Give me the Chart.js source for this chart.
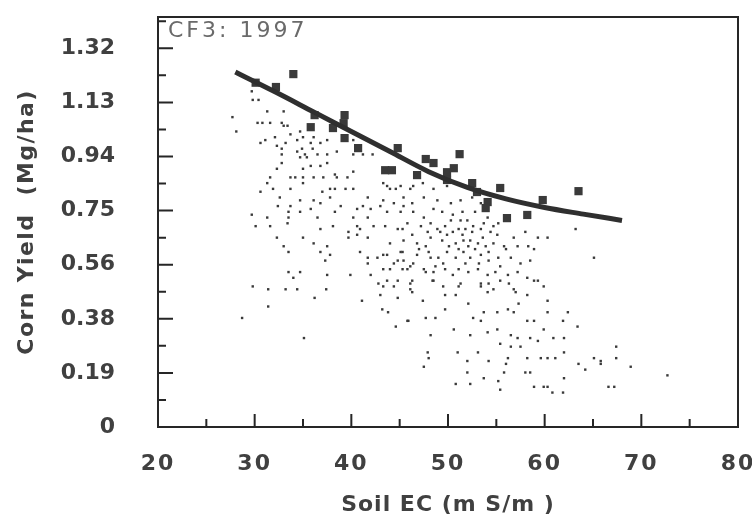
<!DOCTYPE html>
<html>
<head>
<meta charset="utf-8">
<title>CF3: 1997 - Corn Yield vs Soil EC</title>
<script src="https://cdn.jsdelivr.net/npm/chart.js@4.4.1/dist/chart.umd.min.js"></script>
<style>
    html, body { margin: 0; padding: 0; background: #ffffff; }
    #wrap { width: 752px; height: 518px; }
</style>
</head>
<body>
<div id="wrap"><canvas id="ecChart" width="752" height="518"></canvas></div>
<script>
// Yield monitor cells: [Soil EC (mS/m), Corn yield (Mg/ha)]
const gridPoints = [
    [27.7,1.08],[28.1,1.03],[29.7,1.17],[29.8,1.14],[30.4,1.14],[31.3,1.10],[30.3,1.06],[30.8,1.06],[31.6,1.06],[32.8,1.06],
    [33.0,1.10],[33.0,1.05],[33.4,1.05],[33.7,1.02],[34.7,1.03],[30.6,0.99],[31.1,1.00],[32.1,1.01],[32.3,0.98],[33.2,0.99],
    [34.4,1.00],[35.0,1.01],[35.8,0.99],[36.1,1.01],[36.8,0.99],[37.5,1.00],[32.8,0.97],[32.8,0.95],[34.4,0.96],[34.9,0.97],
    [36.0,0.97],[35.2,0.95],[36.5,0.95],[38.5,0.96],[37.5,0.95],[40.2,1.00],[40.2,0.95],[34.7,0.94],[35.4,0.94],[32.8,0.92],
    [37.5,0.92],[35.0,0.90],[35.8,0.91],[36.8,0.91],[32.3,0.90],[31.6,0.87],[33.7,0.87],[34.2,0.87],[35.0,0.87],[36.1,0.87],
    [37.1,0.87],[38.3,0.88],[38.5,0.87],[39.6,0.87],[40.2,0.89],[31.3,0.85],[35.0,0.85],[37.8,0.83],[38.3,0.83],[37.0,0.82],
    [30.6,0.82],[31.9,0.83],[33.7,0.83],[39.4,0.83],[40.2,0.83],[41.7,0.80],[32.6,0.80],[34.7,0.79],[36.1,0.79],[37.8,0.80],
    [32.4,0.77],[33.7,0.77],[35.8,0.76],[36.8,0.78],[38.9,0.77],[40.6,0.76],[41.2,0.77],[42.0,0.76],[29.7,0.74],[31.3,0.73],
    [33.5,0.75],[33.5,0.73],[34.7,0.75],[36.5,0.73],[38.3,0.75],[40.2,0.73],[41.7,0.73],[40.6,0.70],[30.1,0.70],[31.6,0.70],
    [33.4,0.71],[36.8,0.69],[38.1,0.70],[39.7,0.68],[40.9,0.69],[42.3,0.70],[32.3,0.66],[35.0,0.66],[39.7,0.66],[40.6,0.67],
    [41.7,0.66],[33.0,0.63],[36.1,0.64],[37.5,0.63],[33.5,0.61],[36.8,0.61],[37.8,0.60],[40.9,0.61],[41.7,0.59],[42.7,0.59],
    [42.2,0.95],[41.2,0.95],[43.3,0.85],[44.0,0.83],[46.1,0.83],[43.0,0.77],[45.4,0.77],
    [37.3,0.58],[34.7,0.54],[33.5,0.54],[34.0,0.52],[37.5,0.53],[39.9,0.53],[29.8,0.49],[31.4,0.48],[33.2,0.48],[34.4,0.48],
    [37.4,0.48],[36.2,0.45],[31.4,0.42],[28.7,0.38],[35.1,0.31],[41.1,0.44],[41.7,0.57],[43.3,0.60],[45.3,0.61],[43.3,0.55],
    [44.4,0.57],[45.4,0.58],[42.8,0.50],[43.7,0.51],[44.4,0.49],[45.3,0.55],[46.1,0.56],[46.3,0.51],[46.3,0.47],[44.8,0.45],
    [43.0,0.46],[43.2,0.41],[43.8,0.40],[45.9,0.37],[44.6,0.35],[42.0,0.53],[44.8,0.58],[46.4,0.57],[48.2,0.59],[46.1,0.50],
    [47.5,0.55],[48.5,0.51],[46.1,0.48],[47.4,0.44],[45.8,0.37],[47.7,0.38],[48.7,0.38],[49.7,0.41],[48.2,0.32],[47.9,0.26],
    [48.0,0.24],[47.5,0.21],[49.7,0.46],[49.5,0.49],
    [65.1,0.59],[45.8,0.55],[47.7,0.54],[51.1,0.49],[50.8,0.46],[52.1,0.43],[53.4,0.50],[54.2,0.50],[54.1,0.47],[55.4,0.51],
    [56.3,0.50],[57.0,0.47],[58.2,0.46],[58.9,0.51],[59.9,0.49],[60.3,0.44],[50.6,0.34],[52.3,0.32],[52.6,0.38],[53.4,0.37],
    [53.7,0.40],[55.1,0.40],[56.2,0.41],[56.8,0.40],[57.3,0.43],[58.2,0.37],[58.9,0.37],[59.9,0.34],[60.3,0.40],[62.4,0.40],
    [61.9,0.37],[63.4,0.35],[54.1,0.33],[55.1,0.34],[56.5,0.32],[57.2,0.31],[58.5,0.31],[59.3,0.30],[60.9,0.31],[62.0,0.31],
    [55.4,0.29],[56.5,0.28],[57.5,0.28],[59.6,0.24],[60.3,0.24],[61.1,0.24],[62.0,0.26],[58.2,0.24],[56.2,0.24],[56.0,0.22],
    [53.1,0.26],[54.2,0.23],[52.0,0.23],[51.0,0.26],[58.0,0.19],[58.5,0.19],[55.8,0.19],[53.7,0.17],[52.0,0.19],[62.0,0.17],
    [63.5,0.22],[64.2,0.20],[65.8,0.23],[65.8,0.22],[65.1,0.24],[67.4,0.28],[67.4,0.24],[68.9,0.21],[72.7,0.18],[50.8,0.15],
    [52.3,0.15],[55.2,0.16],[55.4,0.13],[58.9,0.14],[59.9,0.14],[60.3,0.14],[60.8,0.12],[61.9,0.12],[66.6,0.14],[67.2,0.14],
    [43.7,0.84],[44.6,0.83],[45.1,0.84],[46.4,0.84],[47.4,0.85],[48.5,0.83],[49.9,0.84],[43.3,0.79],[44.4,0.78],[45.4,0.80],
    [46.3,0.78],[47.5,0.80],[48.9,0.79],[50.3,0.78],[51.3,0.79],[52.5,0.80],[53.4,0.78],[43.7,0.75],[45.1,0.75],[46.4,0.75],
    [47.5,0.73],[48.5,0.76],[49.4,0.75],[50.5,0.74],[51.5,0.75],[52.0,0.72],[52.8,0.75],[54.1,0.73],[55.2,0.71],[43.5,0.70],
    [44.8,0.69],[45.8,0.71],[47.2,0.70],[48.2,0.71],[48.9,0.69],[49.7,0.70],[50.5,0.68],[51.1,0.69],[51.8,0.69],[52.5,0.68],
    [53.4,0.69],[54.4,0.68],[55.1,0.67],[56.8,0.66],[44.0,0.64],[45.4,0.65],[46.8,0.64],[48.2,0.66],[49.4,0.65],[50.1,0.63],
    [50.8,0.64],[51.6,0.65],[52.1,0.63],[53.1,0.64],[53.9,0.63],[54.7,0.64],[55.8,0.63],[57.2,0.63],[58.3,0.63],[43.7,0.60],
    [45.1,0.61],[46.8,0.60],[48.0,0.61],[49.0,0.59],[49.9,0.61],[50.8,0.59],[51.6,0.61],[52.3,0.59],[53.4,0.60],[54.2,0.58],
    [55.2,0.59],[56.5,0.59],[57.5,0.57],[58.5,0.58],[44.0,0.55],[48.5,0.54],[49.7,0.55],[51.1,0.55],[52.1,0.54],[53.1,0.55],
    [54.1,0.53],[54.9,0.54],[56.2,0.53],[57.2,0.54],[58.2,0.52],[59.3,0.51],[44.8,0.51],[48.4,0.51],[51.3,0.50],[53.4,0.49],
    [54.7,0.48],[56.8,0.48],[43.3,0.49],
    [63.2,0.69],[59.3,0.66],[60.3,0.66],[58.0,0.68],[58.9,0.62],
    [49.2,0.68],[49.9,0.67],[51.5,0.67],[52.3,0.65],[53.6,0.66],[51.1,0.62],[52.8,0.62],[54.2,0.61],[49.5,0.57],[51.8,0.57],
    [53.2,0.57],[50.3,0.72],[53.7,0.71],[47.9,0.68],[47.7,0.63],[46.3,0.67],[47.0,0.62],[45.3,0.69],[48.7,0.56],[50.5,0.53],
    [55.4,0.56],[56.0,0.62],[54.7,0.70],[51.3,0.72],[52.6,0.70]
];

// Yield averaged by EC class (square markers)
const classPoints = [
    [30.1,1.20],[32.2,1.185],[34.0,1.23],[36.2,1.087],[35.8,1.045],[39.3,1.087],[39.2,1.059],[38.1,1.042],[39.3,1.007],
    [40.7,0.972],[44.8,0.972],[43.5,0.895],[44.2,0.895],[51.2,0.951],[47.7,0.934],[48.5,0.920],[49.9,0.888],[50.6,0.902],
    [46.8,0.878],[49.9,0.861],[52.5,0.850],[55.4,0.833],[53.0,0.819],[54.1,0.784],[53.9,0.763],[56.1,0.728],[58.2,0.739],
    [59.8,0.791],[63.5,0.822]
];

// Fitted response curve
const curveEC = [28, 32, 36, 40, 44, 48, 52, 56, 60, 64, 68];
const curveYield = [1.237, 1.17, 1.10, 1.03, 0.96, 0.89, 0.835, 0.795, 0.765, 0.742, 0.72];

// Axis ticks
const xTickValues = [20, 30, 40, 50, 60, 70, 80];
const xMinorTickValues = [25, 35, 45, 55, 65, 75];
const yTickLabels = ['0', '0.19', '0.38', '0.56', '0.75', '0.94', '1.13', '1.32'];
const yStep = 1.32 / 7;
const yMax = 1.429;

const inkColor = '#404040';
const labelFont = { family: 'DejaVu Sans', size: 22, weight: 'bold' };

// the scanned figure has loosely tracked lettering: widen labels/titles of a scale
function trackLetters(scale, labelGap, titleGap) {
    const proto = Object.getPrototypeOf(scale);
    scale.drawLabels = function (area) {
        this.ctx.letterSpacing = labelGap + 'px';
        proto.drawLabels.call(this, area);
        this.ctx.letterSpacing = '0px';
    };
    scale.drawTitle = function () {
        this.ctx.letterSpacing = titleGap + 'px';
        proto.drawTitle.call(this);
        this.ctx.letterSpacing = '0px';
    };
}

// drop the extra room Chart.js keeps for edge labels so the plot box fills the frame
function fixBox(scale) {
    scale.paddingTop = 0;
    scale.paddingBottom = 0;
    scale.paddingLeft = 0;
    scale.paddingRight = 0;
}

// Box frame with inward tick marks, plus the plot label
const frameAndTicks = {
    id: 'frameAndTicks',
    afterDraw(chart) {
        const { ctx, chartArea: a, scales } = chart;
        const x = scales.x;
        const y = scales.y;
        ctx.save();
        ctx.strokeStyle = '#262626';
        ctx.lineWidth = 2;
        ctx.strokeRect(a.left, a.top, a.right - a.left, a.bottom - a.top);

        ctx.beginPath();
        xTickValues.concat(xMinorTickValues).forEach(v => {
            const px = x.getPixelForValue(v);
            const len = xTickValues.includes(v) ? 13 : 8;
            ctx.moveTo(px, a.bottom);
            ctx.lineTo(px, a.bottom - len);
        });
        yTickLabels.forEach((label, i) => {
            const major = y.getPixelForValue(i * yStep);
            ctx.moveTo(a.left, major);
            ctx.lineTo(a.left + 15, major);
            if ((i + 0.5) * yStep < yMax) {
                const minor = y.getPixelForValue((i + 0.5) * yStep);
                ctx.moveTo(a.left, minor);
                ctx.lineTo(a.left + 8, minor);
            }
        });
        ctx.stroke();

        // plot label in the upper left corner
        ctx.fillStyle = '#6a6a6a';
        ctx.font = '22px "DejaVu Sans"';
        ctx.letterSpacing = '3px';
        ctx.textBaseline = 'middle';
        ctx.textAlign = 'left';
        ctx.fillText('CF3: 1997', a.left + 10, a.top + 14);
        ctx.restore();
    }
};

document.addEventListener('DOMContentLoaded', function () {
    const chartCanvas = document.getElementById('ecChart').getContext('2d');

    new Chart(chartCanvas, {
        type: 'scatter',
        data: {
            datasets: [
                {
                    label: 'Fitted curve',
                    data: curveEC.map((ec, i) => ({ x: ec, y: curveYield[i] })),
                    showLine: true,
                    borderColor: '#2f2f2f',
                    borderWidth: 5,
                    pointRadius: 0,
                    tension: 0.4,
                    cubicInterpolationMode: 'monotone',
                    order: 0,
                },
                {
                    label: 'Class means',
                    data: classPoints.map(p => ({ x: p[0], y: p[1] })),
                    pointStyle: 'rect',
                    pointRadius: 5.8,
                    backgroundColor: '#3a3a3a',
                    borderWidth: 0,
                    order: 1,
                },
                {
                    label: 'Grid cells',
                    data: gridPoints.map(p => ({ x: p[0], y: p[1] })),
                    pointStyle: 'rect',
                    pointRadius: 1.7,
                    backgroundColor: '#3a3a3a',
                    borderWidth: 0,
                    order: 2,
                },
            ],
        },
        options: {
            responsive: false,
            animation: false,
            devicePixelRatio: 1,
            layout: { padding: { top: 17, right: 14, left: 0, bottom: 0 } },
            plugins: {
                legend: { display: false },
                tooltip: { enabled: false },
            },
            scales: {
                x: {
                    type: 'linear',
                    min: 20,
                    max: 80,
                    afterBuildTicks: scale => {
                        scale.ticks = xTickValues.map(v => ({ value: v }));
                    },
                    afterFit: scale => {
                        scale.height = 91;
                        fixBox(scale);
                        trackLetters(scale, 2, 1);
                    },
                    grid: { display: false, drawTicks: false },
                    border: { display: false },
                    ticks: {
                        color: inkColor,
                        font: labelFont,
                        padding: 24,
                        maxRotation: 0,
                        autoSkip: false,
                    },
                    title: {
                        display: true,
                        text: 'Soil EC (m S/m )',
                        color: inkColor,
                        font: labelFont,
                        padding: 0,
                    },
                },
                y: {
                    type: 'linear',
                    min: 0,
                    max: yMax,
                    afterBuildTicks: scale => {
                        scale.ticks = yTickLabels.map((l, i) => ({ value: i * yStep }));
                    },
                    afterFit: scale => {
                        scale.width = 158;
                        fixBox(scale);
                        trackLetters(scale, 0, 1.4);
                    },
                    grid: { display: false, drawTicks: false },
                    border: { display: false },
                    ticks: {
                        color: inkColor,
                        font: labelFont,
                        padding: 43,
                        autoSkip: false,
                        callback: (value, i) => yTickLabels[i],
                    },
                    title: {
                        display: true,
                        text: 'Corn Yield  (Mg/ha)',
                        color: inkColor,
                        font: labelFont,
                        padding: { top: 14, bottom: 0 },
                    },
                },
            },
        },
        plugins: [frameAndTicks],
    });
});
</script>
</body>
</html>
